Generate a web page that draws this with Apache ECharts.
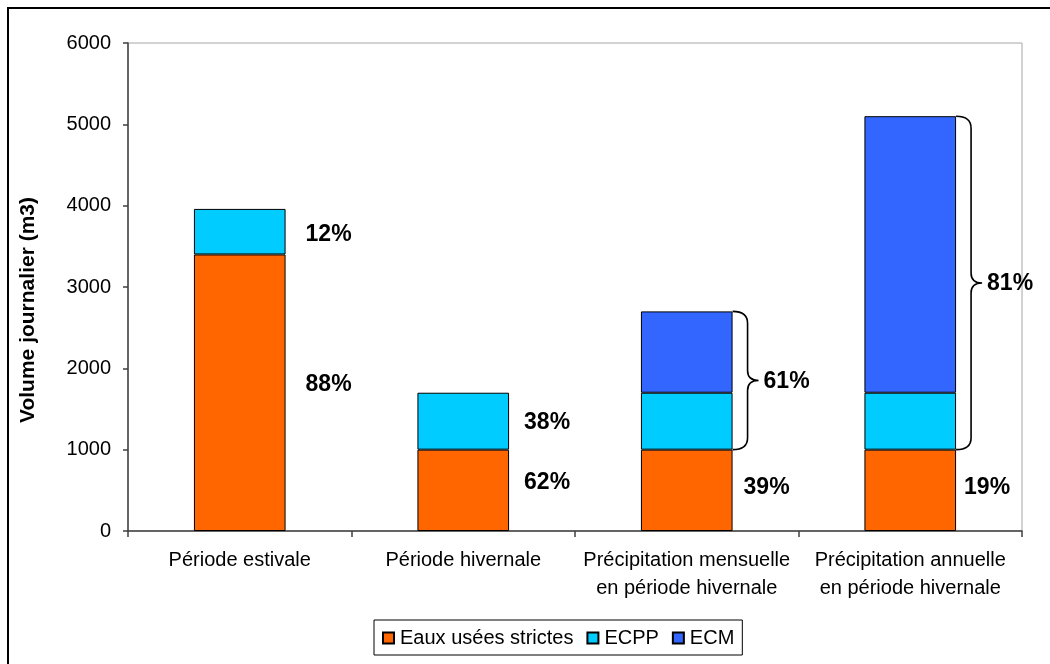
<!DOCTYPE html>
<html>
<head>
<meta charset="utf-8">
<script src="https://cdn.jsdelivr.net/npm/echarts@6/dist/echarts.min.js"></script>
<style>
html,body{margin:0;padding:0;background:#fff;}
#chart{width:1050px;height:664px;}
</style>
</head>
<body>
<div id="chart"></div>
<script>
// ---- data ----
const categories = [
  'Période estivale',
  'Période hivernale',
  'Précipitation mensuelle\nen période hivernale',
  'Précipitation annuelle\nen période hivernale'
];
const eauxUsees = [3400, 1000, 1000, 1000];
const ecpp = [560, 700, 700, 700];
const ecm = [null, null, 1000, 3400];
const eauxPct = ['88%', '62%', '39%', '19%'];
const ecppPct = ['12%', '38%', null, null];
const bracePct = [null, null, '61%', '81%'];
const seriesNames = ['Eaux usées strictes', 'ECPP', 'ECM'];
const yMin = 0, yMax = 6000, yStep = 1000;
const yTitle = 'Volume journalier (m3)';

// ---- styles ----
const FONT = '"Liberation Sans", Arial, sans-serif';
const colors = ['#FF6600', '#00CCFF', '#3366FF'];
const labelDist = [20, 15, 11, 8];
const eauxLabelDy = [-8, -8, -3, -3];
const ecppLabelDy = [3, 1, 0, 0];
const pctStyle = {color: '#000', fontSize: 23, fontWeight: 'bold', fontFamily: FONT};

function buildData(vals, pcts, dys) {
  return vals.map((v, i) => ({
    value: v,
    label: pcts[i] ? Object.assign({
      show: true, position: 'right', distance: labelDist[i],
      offset: [0, dys[i]], formatter: pcts[i]
    }, pctStyle) : {show: false}
  }));
}

// brace data: [category index, low, high, label]
const braceData = [];
bracePct.forEach((p, i) => {
  if (p) {
    const total = eauxUsees[i] + (ecpp[i] || 0) + (ecm[i] || 0);
    braceData.push([i, eauxUsees[i], total, p]);
  }
});

const chart = echarts.init(document.getElementById('chart'), null, {renderer: 'canvas'});
const barFrac = 0.41;

const option = {
  animation: false,
  backgroundColor: '#fff',
  textStyle: {fontFamily: FONT},
  grid: {left: 128, right: 28, top: 43, bottom: 133, show: true, borderColor: '#a6a6a6', borderWidth: 1, backgroundColor: 'transparent'},
  legend: {
    data: seriesNames,
    left: 374, top: 620,
    orient: 'horizontal',
    itemWidth: 11, itemHeight: 11, itemGap: 13,
    padding: [8, 8, 7, 8],
    borderColor: '#000', borderWidth: 1,
    icon: 'rect',
    textStyle: {fontSize: 20, color: '#000', fontFamily: FONT, padding: [0, 0, 0, 1]}
  },
  xAxis: {
    type: 'category',
    data: categories,
    boundaryGap: true,
    axisLine: {lineStyle: {color: '#404040', width: 1.5}},
    axisTick: {show: true, length: 6, inside: false, alignWithLabel: false, lineStyle: {color: '#404040', width: 1.5}},
    axisLabel: {fontSize: 20, color: '#000', fontFamily: FONT, margin: 15, lineHeight: 28, interval: 0}
  },
  yAxis: {
    type: 'value',
    min: yMin, max: yMax, interval: yStep,
    axisLine: {show: true, lineStyle: {color: '#404040', width: 1.5}},
    axisTick: {show: true, length: 5, lineStyle: {color: '#404040', width: 1.5}},
    splitLine: {show: false},
    axisLabel: {fontSize: 20, color: '#000', fontFamily: FONT, margin: 17, formatter: function (v) { return String(v); }}
  },
  graphic: [
    {type: 'line', shape: {x1: 7, y1: 8, x2: 1050, y2: 8}, style: {stroke: '#000', lineWidth: 2}},
    {type: 'line', shape: {x1: 8, y1: 7, x2: 8, y2: 664}, style: {stroke: '#000', lineWidth: 2}},
    {type: 'text', x: 28, y: 310, rotation: Math.PI / 2,
     style: {text: yTitle, font: 'bold 21px ' + FONT, fill: '#000', align: 'center', verticalAlign: 'middle'}}
  ],
  series: [
    {
      name: seriesNames[0], type: 'bar', stack: 'vol', barWidth: (barFrac * 100) + '%',
      itemStyle: {color: colors[0], borderColor: '#000', borderWidth: 1},
      data: buildData(eauxUsees, eauxPct, eauxLabelDy)
    },
    {
      name: seriesNames[1], type: 'bar', stack: 'vol', barWidth: (barFrac * 100) + '%',
      itemStyle: {color: colors[1], borderColor: '#000', borderWidth: 1},
      data: buildData(ecpp, ecppPct, ecppLabelDy)
    },
    {
      name: seriesNames[2], type: 'bar', stack: 'vol', barWidth: (barFrac * 100) + '%',
      itemStyle: {color: colors[2], borderColor: '#000', borderWidth: 1},
      data: ecm
    },
    {
      name: 'braces', type: 'custom', coordinateSystem: 'cartesian2d',
      silent: true, z: 10,
      encode: {x: 0, y: [1, 2]},
      data: braceData,
      renderItem: function (params, api) {
        const idx = api.value(0);
        const lo = api.coord([idx, api.value(1)]);
        const hi = api.coord([idx, api.value(2)]);
        const band = api.size([1, 0])[0];
        const xr = lo[0] + band * barFrac / 2;
        const yt = hi[1], yb = lo[1], ym = (yt + yb) / 2;
        const xv = xr + 15, xt = xr + 26, r = 12, r2 = 10;
        const d = 'M' + xr + ' ' + yt +
          ' Q' + xv + ' ' + yt + ' ' + xv + ' ' + (yt + r) +
          ' L' + xv + ' ' + (ym - r2) +
          ' Q' + xv + ' ' + ym + ' ' + xt + ' ' + ym +
          ' Q' + xv + ' ' + ym + ' ' + xv + ' ' + (ym + r2) +
          ' L' + xv + ' ' + (yb - r) +
          ' Q' + xv + ' ' + yb + ' ' + xr + ' ' + yb;
        return {
          type: 'group',
          children: [
            {type: 'path', shape: {pathData: d}, style: {fill: 'none', stroke: '#000', lineWidth: 1.6}},
            {type: 'text', style: {text: braceData[params.dataIndex][3], x: xt + 5, y: ym + 1,
              font: 'bold 23px ' + FONT, fill: '#000', align: 'left', verticalAlign: 'middle'}}
          ]
        };
      }
    }
  ]
};
chart.setOption(option);
</script>
</body>
</html>
